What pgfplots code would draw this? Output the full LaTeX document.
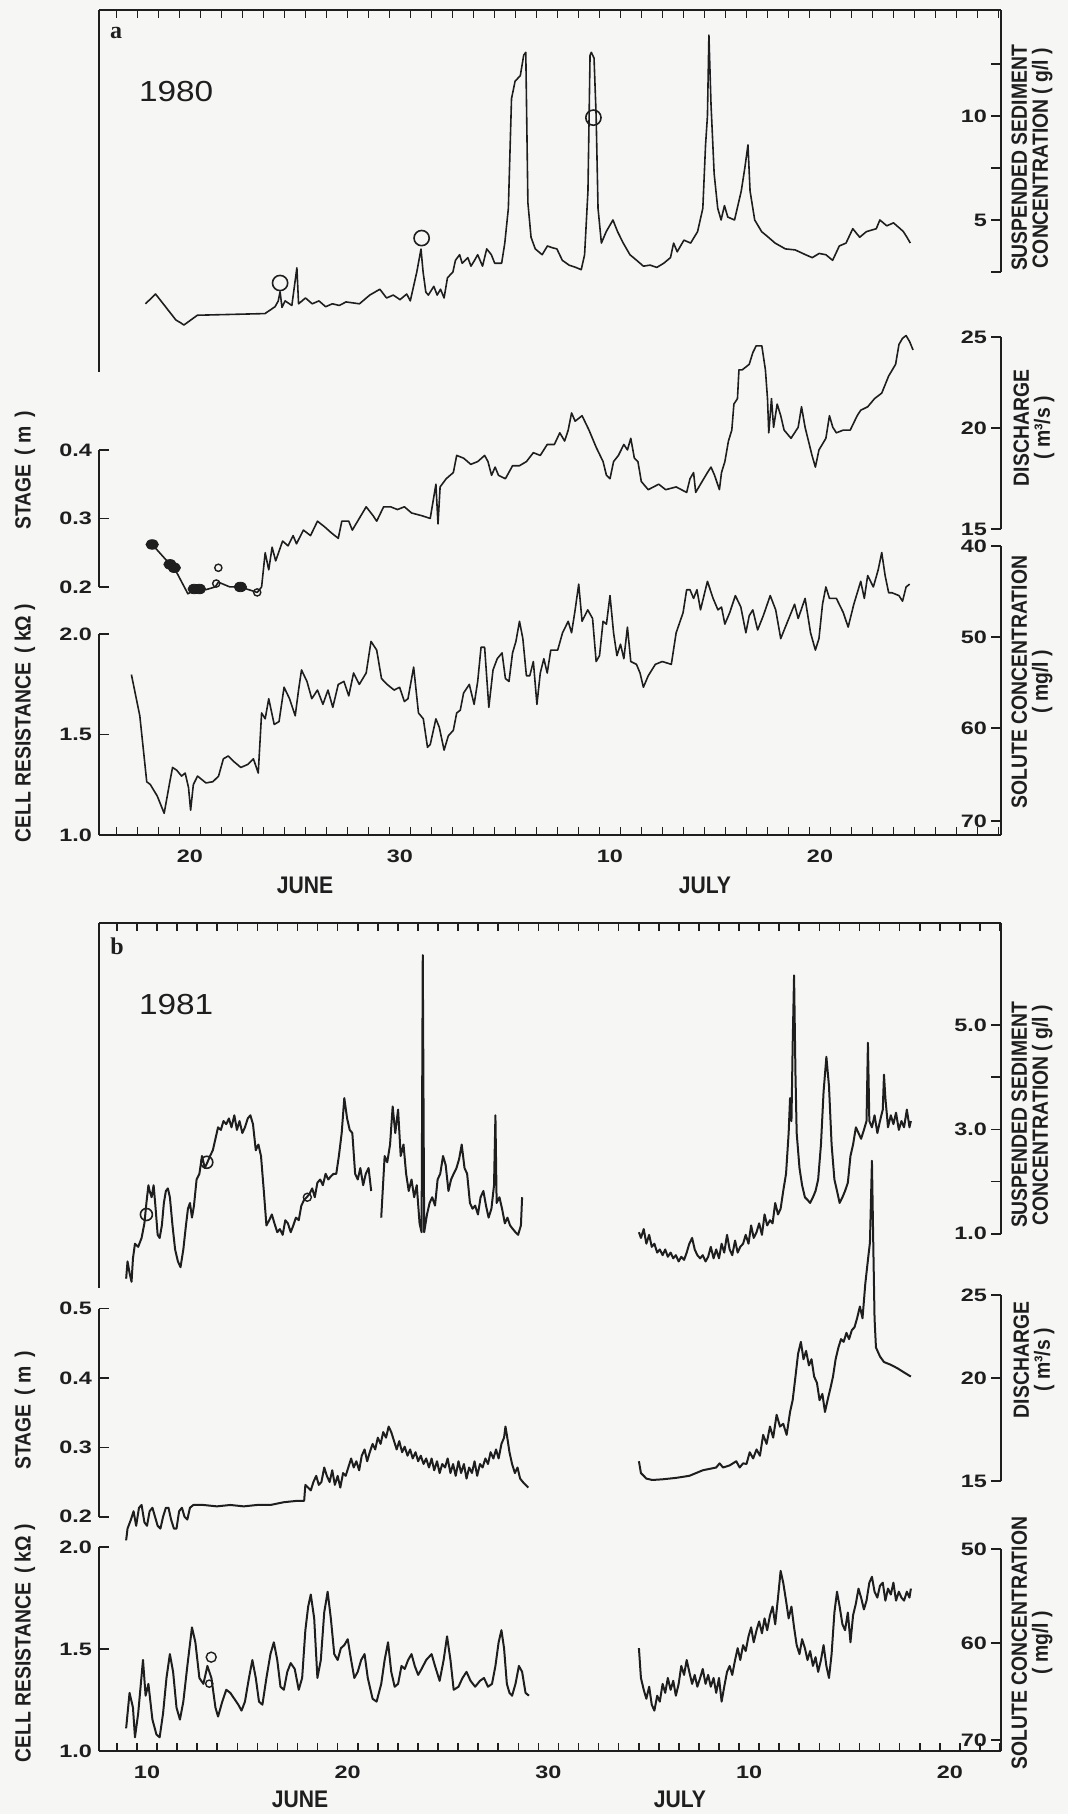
\documentclass[border=0pt]{standalone}
\usepackage{fontspec}
\usepackage{pgfplots}
\pgfplotsset{compat=1.18}
\newfontfamily\tickfamily[FakeStretch=1.3]{Liberation Sans}
\newfontfamily\titlefamily[FakeStretch=0.88]{Liberation Sans}
\newfontfamily\yearfamily[FakeStretch=1.15]{Liberation Sans}
\newfontfamily\serifb{Liberation Serif}
\newcommand\tickf{\tickfamily\bfseries\fontsize{9}{10}\selectfont}
\newcommand\titf{\titlefamily\bfseries\fontsize{11}{10.5}\selectfont}
\newcommand\monf{\titlefamily\bfseries\fontsize{12}{12}\selectfont}
\definecolor{ink}{RGB}{30,30,30}
\definecolor{bg}{RGB}{246,247,245}
\tikzset{spine/.style={draw=ink, line width=1pt}}
\pgfplotsset{
  common/.style={scale only axis, width=451pt, anchor=south west,
    tick style={draw=ink, line width=0.8pt}, major tick length=5pt, tick align=inside,
    tick label style={font=\tickf, text=ink}, clip=false},
  PA/.style={common, at={(49.5pt,489.5pt)}, height=412.5pt, xmin=15.667, xmax=58.619},
  PB/.style={common, at={(49.5pt,31.5pt)}, height=414pt, xmin=7.608, xmax=52.551},
  lefty/.style={hide x axis, axis y line*=left, y axis line style={draw=none}},
  righty/.style={hide x axis, axis y line*=right, y axis line style={draw=none},
    yticklabel style={anchor=east, xshift=-3.5pt}},
  frame/.style={axis x line=box, axis y line=none, ymin=0, ymax=1,
    major tick length=0pt, minor tick length=4pt,
    x axis line style={line width=1pt, draw=ink}, xticklabel style={yshift=-4pt}},
  dl/.style={line width=0.8pt, color=ink, mark=none, line join=round},
  db/.style={line width=1pt, color=ink, mark=none, line join=round},
}
\begin{document}
\begin{tikzpicture}
\useasboundingbox (0,0) rectangle (534pt,907pt);
\fill[bg] (0,0) rectangle (534pt,907pt);
%%%%%%%%%%%%%%%%%%%%%%%%%%%% PANEL A
\begin{axis}[PA, frame, xtick={20,30,40,50}, xticklabels={20,30,10,20},
  minor xtick={16.5,17.5,...,58.5}]
\draw[spine] (rel axis cs:0,0.5612) -- (rel axis cs:0,1);
\end{axis}
% suspended sediment
\begin{axis}[PA, righty, ymin=-24.567, ymax=15.096, ytick={2.5,5,7.5,10,12.5}, yticklabels={,5,,10,}]
\draw[spine] (axis cs:58.619,2.5) -- (axis cs:58.619,15.096);
\addplot[dl] coordinates {(17.88,0.97)(18.36,1.44)(19.33,0.19)(19.55,0.06)(19.71,-0.05)(20.35,0.42)(23.57,0.50)(24.05,0.83)(24.20,1.10)(24.29,1.55)(24.38,0.80)(24.53,1.11)(24.85,0.89)(25.09,2.70)(25.17,0.97)(25.50,1.25)(25.82,0.97)(26.14,1.11)(26.46,0.83)(26.78,0.97)(27.11,0.89)(27.43,1.06)(28.07,0.97)(28.56,1.39)(29.04,1.67)(29.36,1.25)(29.68,1.39)(30.00,1.17)(30.32,1.44)(30.49,1.11)(30.80,2.50)(31.00,3.60)(31.10,2.50)(31.23,1.53)(31.35,1.39)(31.61,1.81)(31.77,1.39)(31.93,1.67)(32.10,1.25)(32.26,2.22)(32.52,2.50)(32.64,3.06)(32.84,3.33)(32.96,2.92)(33.23,3.19)(33.38,2.78)(33.55,3.06)(33.70,3.33)(33.93,2.78)(34.13,3.61)(34.35,3.33)(34.51,2.92)(34.84,2.92)(34.99,3.89)(35.16,5.56)(35.31,10.83)(35.48,11.67)(35.73,11.94)(35.89,12.92)(35.99,13.06)(36.09,5.83)(36.24,4.17)(36.44,3.61)(36.77,3.33)(37.02,3.75)(37.24,3.67)(37.47,3.61)(37.73,3.06)(38.05,2.83)(38.37,2.72)(38.63,2.61)(38.79,3.33)(38.95,6.39)(39.05,12.92)(39.11,13.06)(39.24,12.78)(39.34,10.00)(39.43,5.56)(39.59,3.89)(39.82,4.44)(39.98,4.72)(40.14,5.00)(40.36,4.44)(40.63,3.89)(40.95,3.33)(41.27,3.06)(41.59,2.78)(41.91,2.83)(42.23,2.72)(42.56,2.92)(42.88,3.19)(43.03,3.89)(43.20,3.47)(43.52,4.03)(43.84,3.89)(44.17,4.44)(44.42,5.56)(44.55,8.61)(44.64,10.0)(44.71,13.89)(44.81,10.56)(44.96,7.22)(45.13,5.56)(45.29,5.00)(45.45,5.69)(45.61,5.14)(45.93,5.00)(46.25,6.39)(46.42,7.50)(46.57,8.61)(46.67,6.39)(46.89,5.00)(47.22,4.44)(47.54,4.17)(47.86,3.89)(48.35,3.61)(48.82,3.56)(49.31,3.33)(49.63,3.19)(49.96,3.39)(50.28,3.33)(50.60,3.06)(50.92,3.75)(51.24,3.89)(51.56,4.58)(51.89,4.17)(52.21,4.44)(52.68,4.58)(52.85,5.00)(53.18,4.72)(53.50,4.86)(53.82,4.58)(53.97,4.44)(54.14,4.17)(54.30,3.89)};
\addplot[only marks, mark=o, mark size=3.8pt, ink, line width=0.8pt] coordinates {(24.29,1.97)(31.03,4.13)(39.21,9.92)};
\end{axis}
% stage
\begin{axis}[PA, lefty, ymin=-0.1621, ymax=1.0423, ytick={0.2,0.3,0.4}, yticklabels={0.2,0.3,0.4}]
\draw[spine] (axis cs:15.667,0.2) -- (axis cs:15.667,0.4);
\addplot[dl] coordinates {(18.20,0.262)(19.05,0.233)(19.30,0.225)(19.90,0.190)(20.30,0.197)(20.76,0.196)(21.20,0.200)(21.35,0.207)(21.90,0.200)(22.40,0.200)(23.20,0.192)(23.41,0.200)(23.58,0.250)(23.75,0.225)(23.91,0.258)(24.08,0.238)(24.41,0.267)(24.67,0.260)(24.91,0.275)(25.07,0.263)(25.40,0.283)(25.74,0.275)(26.07,0.296)(26.40,0.288)(26.73,0.279)(27.06,0.271)(27.23,0.296)(27.56,0.296)(27.73,0.283)(28.06,0.300)(28.39,0.317)(28.72,0.304)(28.89,0.296)(29.22,0.317)(29.55,0.317)(29.88,0.313)(30.21,0.317)(30.55,0.308)(31.04,0.304)(31.44,0.300)(31.71,0.350)(31.81,0.292)(31.91,0.346)(32.20,0.358)(32.54,0.367)(32.70,0.392)(33.03,0.388)(33.37,0.379)(33.70,0.383)(34.03,0.392)(34.19,0.383)(34.36,0.363)(34.53,0.375)(34.69,0.363)(35.02,0.358)(35.36,0.377)(35.69,0.377)(36.02,0.383)(36.35,0.396)(36.68,0.392)(37.01,0.408)(37.35,0.408)(37.61,0.425)(37.84,0.413)(38.01,0.429)(38.17,0.454)(38.34,0.442)(38.67,0.450)(39.00,0.429)(39.34,0.404)(39.67,0.383)(39.83,0.363)(40.00,0.358)(40.17,0.383)(40.40,0.392)(40.66,0.408)(40.83,0.400)(40.99,0.417)(41.16,0.388)(41.33,0.383)(41.49,0.354)(41.82,0.342)(42.32,0.350)(42.65,0.342)(43.15,0.346)(43.65,0.338)(43.81,0.358)(43.98,0.367)(44.08,0.338)(44.31,0.350)(44.64,0.367)(44.81,0.375)(44.98,0.363)(45.21,0.342)(45.31,0.367)(45.47,0.383)(45.64,0.413)(45.80,0.429)(45.90,0.467)(46.07,0.475)(46.14,0.517)(46.30,0.517)(46.63,0.525)(46.80,0.542)(46.96,0.552)(47.23,0.552)(47.40,0.517)(47.50,0.475)(47.56,0.425)(47.69,0.475)(47.79,0.433)(47.96,0.467)(48.13,0.450)(48.29,0.429)(48.62,0.417)(48.96,0.433)(49.12,0.463)(49.29,0.433)(49.62,0.392)(49.78,0.375)(49.95,0.400)(50.28,0.417)(50.45,0.450)(50.61,0.433)(50.78,0.425)(51.11,0.429)(51.44,0.429)(51.77,0.450)(51.94,0.458)(52.27,0.463)(52.60,0.475)(52.94,0.483)(53.27,0.508)(53.60,0.525)(53.76,0.554)(53.93,0.563)(54.10,0.567)(54.27,0.558)(54.43,0.546)};
\addplot[only marks, mark=*, mark size=2.4pt, ink, mark options={xscale=1.3}] coordinates {(18.20,0.262)(19.05,0.233)(19.25,0.228)(20.20,0.197)(20.45,0.197)(22.40,0.200)};
\addplot[only marks, mark=o, mark size=1.8pt, ink, line width=0.7pt] coordinates {(21.35,0.228)(21.25,0.205)(23.20,0.192)};
\end{axis}
% discharge ticks
\begin{axis}[PA, righty, ymin=-0.1621, ymax=1.0423, ytick={0.2847,0.4321,0.565}, yticklabels={15,20,25}]
\draw[spine] (axis cs:58.619,0.2847) -- (axis cs:58.619,0.565);
\end{axis}
% cell resistance
\begin{axis}[PA, lefty, ymin=1, ymax=5.1045, ytick={1,1.5,2}, yticklabels={1.0,1.5,2.0}]
\draw[spine] (axis cs:15.667,1) -- (axis cs:15.667,2);
\addplot[dl] coordinates {(17.21,1.798)(17.61,1.593)(17.94,1.265)(18.11,1.251)(18.44,1.194)(18.77,1.108)(19.04,1.265)(19.17,1.336)(19.37,1.322)(19.60,1.293)(19.77,1.308)(19.93,1.236)(20.03,1.123)(20.16,1.251)(20.36,1.293)(20.76,1.259)(21.09,1.265)(21.36,1.293)(21.59,1.379)(21.82,1.393)(22.09,1.365)(22.42,1.336)(22.75,1.351)(23.02,1.379)(23.25,1.308)(23.41,1.607)(23.58,1.578)(23.75,1.678)(24.01,1.550)(24.24,1.564)(24.48,1.735)(24.74,1.678)(25.01,1.593)(25.17,1.721)(25.31,1.821)(25.57,1.764)(25.80,1.678)(26.07,1.721)(26.33,1.650)(26.57,1.721)(26.80,1.635)(27.06,1.749)(27.33,1.764)(27.56,1.692)(27.79,1.806)(28.06,1.749)(28.39,1.806)(28.62,1.963)(28.89,1.920)(29.12,1.778)(29.39,1.749)(29.72,1.721)(29.98,1.735)(30.21,1.664)(30.38,1.678)(30.65,1.835)(30.88,1.607)(31.11,1.578)(31.31,1.436)(31.44,1.450)(31.71,1.578)(31.87,1.536)(32.10,1.422)(32.30,1.493)(32.54,1.521)(32.70,1.607)(32.87,1.621)(33.03,1.707)(33.30,1.749)(33.53,1.650)(33.70,1.764)(33.86,1.934)(34.03,1.934)(34.23,1.635)(34.43,1.821)(34.63,1.877)(34.86,1.906)(35.02,1.778)(35.19,1.764)(35.36,1.906)(35.52,1.963)(35.69,2.063)(35.85,1.977)(36.02,1.792)(36.18,1.792)(36.35,1.863)(36.52,1.650)(36.68,1.806)(36.85,1.877)(37.01,1.806)(37.18,1.920)(37.51,1.920)(37.74,2.006)(38.01,2.063)(38.17,2.006)(38.34,2.120)(38.51,2.248)(38.67,2.063)(38.94,2.120)(39.17,2.077)(39.34,1.863)(39.50,1.892)(39.67,2.063)(39.83,2.049)(40.00,2.191)(40.17,2.006)(40.33,1.892)(40.50,1.949)(40.66,1.877)(40.83,2.034)(40.99,1.863)(41.26,1.849)(41.43,1.806)(41.59,1.735)(41.82,1.792)(42.16,1.849)(42.49,1.863)(42.92,1.849)(43.15,2.006)(43.48,2.106)(43.65,2.220)(43.81,2.220)(43.98,2.177)(44.14,2.220)(44.31,2.120)(44.64,2.262)(44.91,2.177)(45.14,2.120)(45.31,2.134)(45.47,2.049)(45.70,2.106)(45.97,2.191)(46.23,2.134)(46.47,2.006)(46.63,2.091)(46.80,2.120)(47.03,2.020)(47.30,2.091)(47.63,2.191)(47.89,2.120)(48.13,1.977)(48.46,2.063)(48.79,2.148)(48.96,2.077)(49.29,2.177)(49.55,2.006)(49.78,1.920)(49.95,1.977)(50.12,2.148)(50.28,2.234)(50.45,2.177)(50.78,2.177)(51.11,2.106)(51.34,2.034)(51.61,2.148)(51.94,2.262)(52.11,2.177)(52.27,2.291)(52.54,2.234)(52.77,2.319)(52.94,2.405)(53.10,2.291)(53.27,2.205)(53.43,2.205)(53.76,2.191)(53.93,2.163)(54.10,2.234)(54.27,2.248)};
\end{axis}
% solute ticks
\begin{axis}[PA, righty, ymin=1, ymax=5.1045, ytick={1.070,1.532,1.985,2.438}, yticklabels={70,60,50,40}]
\draw[spine] (axis cs:58.619,1) -- (axis cs:58.619,2.438);
\end{axis}
%%%%%%%%%%%%%%%%%%%%%%%%%%%% PANEL B
\begin{axis}[PB, frame, xtick={10,20,30,40,50}, xticklabels={10,20,30,10,20},
  minor xtick={8.5,9.5,...,52.5}]
\draw[spine] (rel axis cs:0,0.5592) -- (rel axis cs:0,1);
\end{axis}
% suspended sediment
\begin{axis}[PB, righty, ymin=-8.908, ymax=6.954, ytick={1,2,3,4,5}, yticklabels={1.0,,3.0,,5.0}]
\draw[spine] (axis cs:52.551,1) -- (axis cs:52.551,6.954);
\addplot[db] coordinates {(8.96,0.14)(9.03,0.47)(9.13,0.25)(9.23,0.08)(9.30,0.53)(9.40,0.81)(9.56,0.75)(9.73,0.92)(9.87,1.20)(9.97,1.59)(10.07,1.93)(10.13,1.82)(10.23,1.70)(10.33,1.93)(10.43,1.48)(10.53,0.98)(10.63,0.92)(10.74,1.16)(10.84,1.59)(10.94,1.82)(11.04,1.87)(11.14,1.70)(11.27,1.16)(11.40,0.70)(11.54,0.47)(11.67,0.36)(11.81,0.70)(11.94,1.16)(12.04,1.48)(12.14,1.59)(12.24,1.31)(12.34,1.54)(12.47,2.04)(12.61,2.15)(12.74,2.49)(12.88,2.26)(13.01,2.37)(13.14,2.49)(13.28,2.60)(13.41,2.82)(13.54,3.04)(13.68,2.99)(13.81,3.16)(13.95,3.10)(14.08,3.21)(14.21,3.04)(14.35,3.27)(14.48,2.99)(14.61,3.16)(14.75,2.93)(14.88,3.04)(15.02,3.21)(15.15,3.27)(15.28,3.10)(15.42,2.60)(15.55,2.71)(15.68,2.49)(15.82,1.82)(15.95,1.16)(16.09,1.26)(16.22,1.37)(16.35,1.20)(16.49,1.03)(16.62,1.09)(16.76,0.98)(16.89,1.26)(17.02,1.20)(17.16,1.03)(17.29,1.16)(17.42,1.31)(17.56,1.26)(17.69,1.54)(17.83,1.65)(17.96,1.70)(18.09,1.76)(18.23,1.87)(18.36,1.70)(18.49,1.98)(18.63,2.04)(18.76,1.93)(18.90,2.15)(19.03,2.04)(19.16,2.10)(19.30,2.15)(19.43,2.15)(19.56,2.49)(19.70,2.93)(19.83,3.60)(19.97,3.21)(20.10,2.99)(20.23,2.93)(20.37,2.15)(20.50,2.04)(20.63,2.26)(20.77,1.93)(20.90,2.15)(21.04,2.26)(21.17,1.82)};
\addplot[db] coordinates {(21.67,1.31)(21.84,2.49)(21.97,2.37)(22.11,2.71)(22.24,3.44)(22.37,2.93)(22.51,3.38)(22.64,2.49)(22.78,2.71)(22.91,2.15)(23.04,1.82)(23.18,2.04)(23.31,1.70)(23.44,1.93)(23.58,1.20)(23.68,1.03)(23.74,6.34)(23.81,1.03)(23.95,1.37)(24.08,1.59)(24.21,1.70)(24.35,1.54)(24.48,2.04)(24.61,2.15)(24.75,2.49)(24.88,2.32)(25.02,1.82)(25.15,2.04)(25.28,2.15)(25.42,2.26)(25.55,2.43)(25.68,2.71)(25.82,2.26)(25.95,2.15)(26.09,1.59)(26.22,1.48)(26.35,1.54)(26.49,1.37)(26.62,1.70)(26.76,1.82)(26.89,1.54)(27.02,1.31)(27.16,1.48)(27.29,1.93)(27.36,3.27)(27.42,1.59)(27.56,1.70)(27.69,1.48)(27.83,1.20)(27.96,1.31)(28.09,1.16)(28.23,1.09)(28.36,1.03)(28.49,0.98)(28.63,1.16)(28.69,1.70)};
\addplot[db] coordinates {(34.51,1.03)(34.61,0.92)(34.75,1.09)(34.88,0.81)(35.02,0.98)(35.15,0.75)(35.28,0.81)(35.42,0.64)(35.55,0.70)(35.69,0.59)(35.82,0.70)(35.95,0.56)(36.09,0.64)(36.22,0.53)(36.35,0.59)(36.49,0.47)(36.62,0.56)(36.76,0.50)(36.89,0.64)(37.02,0.81)(37.16,0.92)(37.29,0.70)(37.42,0.59)(37.56,0.53)(37.69,0.59)(37.83,0.47)(37.96,0.56)(38.09,0.75)(38.23,0.53)(38.36,0.70)(38.50,0.53)(38.63,0.81)(38.76,0.64)(38.90,0.98)(39.03,0.70)(39.16,0.59)(39.30,0.87)(39.43,0.64)(39.56,0.75)(39.70,0.81)(39.83,0.98)(39.97,0.81)(40.10,1.16)(40.23,0.92)(40.37,1.03)(40.50,1.20)(40.64,0.98)(40.77,1.37)(40.90,1.16)(41.04,1.26)(41.17,1.20)(41.30,1.59)(41.44,1.37)(41.57,1.48)(41.70,1.82)(41.84,2.15)(41.97,2.93)(42.04,3.60)(42.11,3.16)(42.17,4.61)(42.24,5.95)(42.31,4.05)(42.37,2.93)(42.51,2.26)(42.64,1.93)(42.78,1.70)(42.91,1.65)(43.04,1.59)(43.18,1.70)(43.31,1.82)(43.44,2.04)(43.58,2.71)(43.71,3.72)(43.85,4.39)(43.98,3.83)(44.11,2.71)(44.25,2.04)(44.38,1.82)(44.51,1.59)(44.65,1.70)(44.78,1.82)(44.92,1.98)(45.05,2.49)(45.18,2.71)(45.32,3.04)(45.45,2.93)(45.58,2.82)(45.72,2.99)(45.85,3.16)(45.92,4.66)(45.99,3.16)(46.12,3.04)(46.25,3.27)(46.39,2.93)(46.52,3.16)(46.66,3.38)(46.72,4.05)(46.79,3.60)(46.92,3.04)(47.06,3.27)(47.19,3.10)(47.32,3.32)(47.46,2.99)(47.59,3.16)(47.72,3.04)(47.86,3.38)(47.99,3.04)(48.06,3.16)};
\addplot[only marks, mark=o, mark size=3pt, ink, line width=0.8pt] coordinates {(9.97,1.37)(12.98,2.37)};
\addplot[only marks, mark=o, mark size=2pt, ink, line width=0.7pt] coordinates {(17.99,1.70)};
\end{axis}
% stage
\begin{axis}[PB, lefty, ymin=-0.1375, ymax=1.0556, ytick={0.2,0.3,0.4,0.5}, yticklabels={0.2,0.3,0.4,0.5}]
\draw[spine] (axis cs:7.608,0.2) -- (axis cs:7.608,0.5);
\addplot[db] coordinates {(8.96,0.166)(9.03,0.183)(9.20,0.196)(9.33,0.208)(9.46,0.187)(9.60,0.213)(9.73,0.217)(9.87,0.192)(10.00,0.187)(10.13,0.208)(10.27,0.213)(10.40,0.200)(10.53,0.187)(10.67,0.183)(10.80,0.200)(10.94,0.213)(11.07,0.213)(11.20,0.196)(11.34,0.183)(11.47,0.183)(11.60,0.208)(11.74,0.213)(11.87,0.200)(12.01,0.196)(12.14,0.213)(12.31,0.217)(12.47,0.217)(12.81,0.217)(13.48,0.215)(14.15,0.217)(14.82,0.215)(15.48,0.217)(16.15,0.217)(16.82,0.221)(17.49,0.223)(17.83,0.223)(17.89,0.246)(18.03,0.242)(18.16,0.238)(18.29,0.250)(18.43,0.259)(18.56,0.246)(18.69,0.250)(18.83,0.271)(18.96,0.259)(19.10,0.250)(19.23,0.267)(19.36,0.246)(19.50,0.259)(19.63,0.242)(19.77,0.263)(19.90,0.259)(20.03,0.271)(20.17,0.284)(20.30,0.271)(20.43,0.280)(20.57,0.267)(20.70,0.288)(20.84,0.297)(20.97,0.280)(21.10,0.293)(21.24,0.305)(21.37,0.297)(21.50,0.314)(21.64,0.305)(21.77,0.322)(21.91,0.314)(22.04,0.330)(22.17,0.322)(22.31,0.309)(22.44,0.297)(22.57,0.309)(22.71,0.293)(22.84,0.301)(22.98,0.288)(23.11,0.297)(23.24,0.284)(23.38,0.293)(23.51,0.280)(23.64,0.288)(23.78,0.276)(23.91,0.284)(24.05,0.271)(24.18,0.284)(24.31,0.267)(24.45,0.280)(24.58,0.263)(24.71,0.276)(24.85,0.271)(24.98,0.284)(25.12,0.263)(25.25,0.276)(25.38,0.259)(25.52,0.280)(25.65,0.263)(25.79,0.276)(25.92,0.255)(26.05,0.271)(26.19,0.263)(26.32,0.280)(26.45,0.259)(26.59,0.276)(26.72,0.271)(26.86,0.284)(26.99,0.276)(27.12,0.293)(27.26,0.284)(27.39,0.297)(27.52,0.284)(27.66,0.305)(27.79,0.314)(27.86,0.330)(27.93,0.318)(28.06,0.293)(28.19,0.276)(28.33,0.263)(28.46,0.271)(28.59,0.255)(28.73,0.250)(28.86,0.246)(29.00,0.242)};
\addplot[db] coordinates {(34.51,0.280)(34.61,0.263)(34.75,0.259)(34.88,0.255)(35.18,0.253)(35.69,0.254)(36.35,0.256)(37.02,0.259)(37.36,0.263)(37.69,0.267)(38.03,0.269)(38.36,0.271)(38.53,0.277)(38.70,0.271)(39.03,0.274)(39.36,0.280)(39.53,0.271)(39.70,0.277)(39.87,0.276)(40.03,0.293)(40.20,0.284)(40.37,0.297)(40.54,0.288)(40.70,0.318)(40.87,0.305)(41.04,0.330)(41.20,0.314)(41.37,0.347)(41.54,0.330)(41.70,0.334)(41.87,0.318)(42.04,0.351)(42.17,0.368)(42.31,0.402)(42.44,0.435)(42.58,0.452)(42.71,0.427)(42.84,0.439)(42.98,0.418)(43.11,0.427)(43.24,0.402)(43.38,0.393)(43.51,0.368)(43.65,0.377)(43.78,0.351)(43.91,0.368)(44.05,0.385)(44.18,0.402)(44.31,0.427)(44.45,0.444)(44.58,0.456)(44.71,0.452)(44.85,0.465)(44.98,0.456)(45.12,0.469)(45.25,0.473)(45.38,0.486)(45.52,0.503)(45.65,0.486)(45.79,0.536)(45.92,0.570)(46.02,0.595)(46.12,0.713)(46.19,0.587)(46.25,0.486)(46.32,0.444)(46.52,0.431)(46.72,0.423)(47.06,0.419)(47.39,0.414)(47.72,0.408)(48.06,0.402)};
\end{axis}
% discharge ticks
\begin{axis}[PB, righty, ymin=-0.1375, ymax=1.0556, ytick={0.2516,0.4,0.5196}, yticklabels={15,20,25}]
\draw[spine] (axis cs:52.551,0.2516) -- (axis cs:52.551,0.5196);
\end{axis}
% cell resistance
\begin{axis}[PB, lefty, ymin=1, ymax=5.0588, ytick={1,1.5,2}, yticklabels={1.0,1.5,2.0}]
\draw[spine] (axis cs:7.608,1) -- (axis cs:7.608,2);
\addplot[db] coordinates {(8.96,1.111)(9.13,1.285)(9.30,1.213)(9.40,1.067)(9.56,1.184)(9.80,1.446)(9.93,1.271)(10.07,1.329)(10.27,1.154)(10.47,1.081)(10.63,1.067)(10.80,1.184)(10.97,1.358)(11.14,1.475)(11.30,1.388)(11.47,1.213)(11.64,1.154)(11.81,1.242)(12.01,1.417)(12.24,1.606)(12.41,1.533)(12.61,1.358)(12.81,1.329)(13.01,1.417)(13.21,1.358)(13.41,1.213)(13.54,1.169)(13.75,1.242)(13.95,1.300)(14.15,1.285)(14.35,1.256)(14.55,1.227)(14.71,1.198)(14.88,1.242)(15.08,1.358)(15.25,1.446)(15.42,1.358)(15.58,1.242)(15.75,1.227)(15.95,1.358)(16.15,1.475)(16.32,1.533)(16.49,1.446)(16.65,1.315)(16.82,1.300)(16.99,1.388)(17.16,1.431)(17.36,1.402)(17.56,1.300)(17.73,1.358)(17.89,1.592)(18.03,1.708)(18.16,1.767)(18.33,1.650)(18.49,1.358)(18.66,1.446)(18.83,1.679)(19.00,1.781)(19.16,1.650)(19.33,1.475)(19.50,1.446)(19.66,1.504)(19.83,1.519)(20.00,1.548)(20.17,1.446)(20.33,1.358)(20.50,1.388)(20.67,1.446)(20.84,1.475)(21.00,1.358)(21.24,1.256)(21.44,1.242)(21.67,1.329)(21.84,1.446)(22.01,1.533)(22.17,1.388)(22.34,1.315)(22.51,1.329)(22.68,1.417)(22.84,1.402)(23.01,1.446)(23.18,1.475)(23.34,1.417)(23.51,1.373)(23.68,1.402)(23.91,1.446)(24.18,1.475)(24.35,1.417)(24.58,1.344)(24.78,1.446)(24.95,1.562)(25.12,1.446)(25.28,1.300)(25.52,1.315)(25.72,1.358)(25.92,1.388)(26.12,1.344)(26.35,1.315)(26.59,1.344)(26.79,1.358)(26.99,1.315)(27.19,1.329)(27.36,1.417)(27.52,1.533)(27.66,1.592)(27.79,1.504)(27.93,1.329)(28.06,1.285)(28.19,1.271)(28.36,1.329)(28.53,1.417)(28.69,1.388)(28.86,1.285)(29.03,1.271)};
\addplot[db] coordinates {(34.51,1.504)(34.61,1.358)(34.75,1.300)(34.88,1.256)(35.02,1.315)(35.15,1.227)(35.28,1.198)(35.42,1.271)(35.55,1.242)(35.69,1.329)(35.82,1.285)(35.95,1.358)(36.09,1.300)(36.22,1.344)(36.35,1.271)(36.49,1.329)(36.62,1.417)(36.76,1.373)(36.89,1.446)(37.02,1.388)(37.16,1.329)(37.29,1.373)(37.42,1.315)(37.56,1.358)(37.69,1.402)(37.83,1.329)(37.96,1.373)(38.09,1.315)(38.23,1.358)(38.36,1.285)(38.50,1.358)(38.63,1.242)(38.76,1.315)(38.90,1.388)(39.03,1.417)(39.16,1.373)(39.30,1.446)(39.43,1.504)(39.56,1.446)(39.70,1.519)(39.83,1.490)(39.97,1.562)(40.10,1.606)(40.23,1.533)(40.37,1.592)(40.50,1.635)(40.64,1.577)(40.77,1.650)(40.90,1.592)(41.04,1.665)(41.17,1.708)(41.30,1.621)(41.44,1.752)(41.57,1.883)(41.70,1.825)(41.84,1.737)(41.97,1.650)(42.11,1.708)(42.24,1.606)(42.37,1.519)(42.51,1.475)(42.64,1.548)(42.78,1.504)(42.91,1.446)(43.04,1.490)(43.18,1.417)(43.31,1.460)(43.44,1.388)(43.58,1.446)(43.71,1.519)(43.85,1.417)(43.98,1.358)(44.11,1.475)(44.25,1.679)(44.38,1.781)(44.51,1.708)(44.65,1.621)(44.78,1.592)(44.92,1.679)(45.05,1.533)(45.18,1.665)(45.32,1.723)(45.45,1.796)(45.58,1.752)(45.72,1.694)(45.85,1.737)(45.99,1.825)(46.12,1.854)(46.25,1.781)(46.39,1.752)(46.52,1.810)(46.66,1.825)(46.79,1.737)(46.92,1.796)(47.06,1.767)(47.19,1.825)(47.32,1.737)(47.46,1.781)(47.59,1.752)(47.72,1.737)(47.86,1.781)(47.99,1.752)(48.06,1.796)};
\addplot[only marks, mark=o, mark size=2.5pt, ink, line width=0.7pt] coordinates {(13.2,1.46)};
\addplot[only marks, mark=o, mark size=1.8pt, ink, line width=0.7pt] coordinates {(13.1,1.33)};
\end{axis}
% solute ticks
\begin{axis}[PB, righty, ymin=1, ymax=5.0588, ytick={1.054,1.529,1.990}, yticklabels={70,60,50}]
\draw[spine] (axis cs:52.551,1) -- (axis cs:52.551,1.990);
\end{axis}
%%%%%%%%%%%%%%%%%%%%%%%%%%%% TEXT
\begin{scope}[every node/.style={text=ink}]
\node[font=\serifb\bfseries\fontsize{12}{12}\selectfont] at (58pt,890.5pt) {a};
\node[anchor=west, font=\yearfamily\fontsize{14.5}{14.5}\selectfont] at (66pt,861pt) {1980};
\node[font=\serifb\bfseries\fontsize{12}{12}\selectfont] at (58.5pt,434pt) {b};
\node[anchor=west, font=\yearfamily\fontsize{14.5}{14.5}\selectfont] at (66pt,404.5pt) {1981};
% right titles
\node[rotate=90, align=center, font=\titf] at (516pt,828pt) {SUSPENDED SEDIMENT\\CONCENTRATION ( g/l )};
\node[rotate=90, align=center, font=\titf] at (517pt,693pt) {DISCHARGE\\( m³/s )};
\node[rotate=90, align=center, font=\titf] at (516pt,566pt) {SOLUTE CONCENTRATION\\( mg/l )};
\node[rotate=90, align=center, font=\titf] at (516pt,349.5pt) {SUSPENDED SEDIMENT\\CONCENTRATION ( g/l )};
\node[rotate=90, align=center, font=\titf] at (517pt,227pt) {DISCHARGE\\( m³/s )};
\node[rotate=90, align=center, font=\titf] at (516pt,85.5pt) {SOLUTE CONCENTRATION\\( mg/l )};
% left titles
\node[rotate=90, font=\titf] at (12.5pt,672pt) {STAGE \,( m \,)};
\node[rotate=90, font=\titf] at (12.5pt,545.5pt) {CELL RESISTANCE \,( kΩ )};
\node[rotate=90, font=\titf] at (12.5pt,202pt) {STAGE \,( m \,)};
\node[rotate=90, font=\titf] at (12.5pt,85.5pt) {CELL RESISTANCE \,( kΩ )};
% months
\node[font=\monf] at (152.5pt,464.5pt) {JUNE};
\node[font=\monf] at (352.5pt,464.5pt) {JULY};
\node[font=\monf] at (150pt,7.5pt) {JUNE};
\node[font=\monf] at (340pt,7.5pt) {JULY};
\end{scope}
\end{tikzpicture}
\end{document}
